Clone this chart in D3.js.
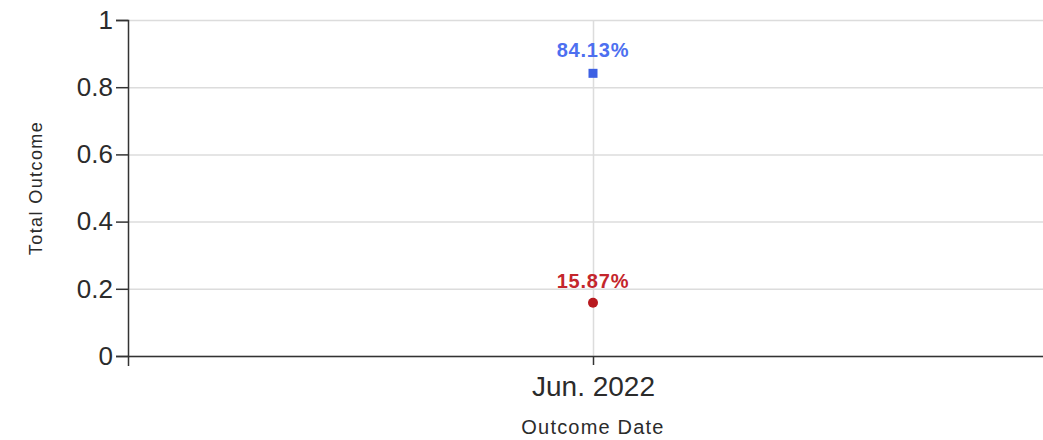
<!DOCTYPE html>
<html lang="en">
<head>
  <meta charset="utf-8">
  <script src="https://d3js.org/d3.v7.min.js"></script>
  <style>
    body { margin: 0; background: #fff; font-family: "Liberation Sans", Arial, sans-serif; }
    .axisstyle text { font-family: "Liberation Sans", Arial, sans-serif; fill: #2b2b2b; }
    .axisstyle path, .axisstyle line { stroke: #333; stroke-width: 1.5; }
    .grid line { stroke: #dcdcdc; stroke-width: 1.5; }
    .grid path { display: none; }
  </style>
</head>
<body>
<svg width="1043" height="440"></svg>
<script>
  var dates = ["Jun. 2022"];
  var positiveValues = [0.8413];
  var negativeValues = [0.1587];
  var yTicks = [0, 0.2, 0.4, 0.6, 0.8, 1];

  var svg = d3.select("svg"),
      margin = {top: 20, right: -15, bottom: 84, left: 128},
      width = +svg.attr("width") - margin.left - margin.right,
      height = +svg.attr("height") - margin.top - margin.bottom;

  var canvas = svg.append("g")
      .attr("transform", "translate(" + margin.left + "," + margin.top + ")");

  var xScale = d3.scalePoint().domain(dates).range([0, width]).padding(0.5);
  var yScale = d3.scaleLinear().domain([0, 1]).range([height, 0]);

  // gridlines
  canvas.append("g").attr("class", "grid")
      .call(d3.axisLeft(yScale).tickValues(yTicks).tickSize(-width).tickFormat(""));
  canvas.append("g").attr("class", "grid")
      .call(d3.axisBottom(xScale).tickSize(height).tickFormat(""));

  canvas.append("g")
      .attr("class", "axisstyle")
      .attr("transform", "translate(0," + height + ")")
      .call(d3.axisBottom(xScale).tickSize(9).tickSizeOuter(10))
      .selectAll("text")
      .style("font-size", "28px")
      .attr("y", 20);

  canvas.append("g")
      .attr("class", "axisstyle")
      .call(d3.axisLeft(yScale).tickValues(yTicks).tickFormat(d3.format("")).tickSize(12).tickSizeOuter(12))
      .selectAll("text")
      .style("font-size", "26px");

  svg.append("text")
      .attr("x", margin.left + xScale(dates[0]))
      .attr("y", 434)
      .style("text-anchor", "middle")
      .style("font-size", "20px")
      .style("letter-spacing", "1.2px")
      .attr("fill", "#2b2b2b")
      .text("Outcome Date");

  svg.append("text")
      .attr("transform", "translate(42," + (margin.top + height / 2) + ") rotate(-90)")
      .style("text-anchor", "middle")
      .style("font-size", "18px")
      .style("letter-spacing", "1.4px")
      .attr("fill", "#2b2b2b")
      .text("Total Outcome");

  var posData = dates.map(function(d, i) { return {date: d, value: positiveValues[i]}; });
  var negData = dates.map(function(d, i) { return {date: d, value: negativeValues[i]}; });

  canvas.selectAll(".pos")
      .data(posData)
      .enter().append("rect")
      .attr("class", "pos")
      .attr("x", function(d) { return xScale(d.date) - 4.5; })
      .attr("y", function(d) { return yScale(d.value) - 4.5; })
      .attr("width", 9).attr("height", 9)
      .attr("fill", "#3d60e3");

  canvas.selectAll(".posLabel")
      .data(posData)
      .enter().append("text")
      .attr("x", function(d) { return xScale(d.date); })
      .attr("y", function(d) { return yScale(d.value) - 16; })
      .style("text-anchor", "middle")
      .style("font-size", "20px")
      .style("font-weight", "bold")
      .style("letter-spacing", "0.8px")
      .attr("fill", "#4d6ff0")
      .text(function(d) { return (d.value * 100).toFixed(2) + "%"; });

  canvas.selectAll(".neg")
      .data(negData)
      .enter().append("circle")
      .attr("class", "neg")
      .attr("cx", function(d) { return xScale(d.date); })
      .attr("cy", function(d) { return yScale(d.value); })
      .attr("r", 5)
      .attr("fill", "#b8191f");

  canvas.selectAll(".negLabel")
      .data(negData)
      .enter().append("text")
      .attr("x", function(d) { return xScale(d.date); })
      .attr("y", function(d) { return yScale(d.value) - 15; })
      .style("text-anchor", "middle")
      .style("font-size", "20px")
      .style("font-weight", "bold")
      .style("letter-spacing", "0.8px")
      .attr("fill", "#c4262c")
      .text(function(d) { return (d.value * 100).toFixed(2) + "%"; });
</script>
</body>
</html>
